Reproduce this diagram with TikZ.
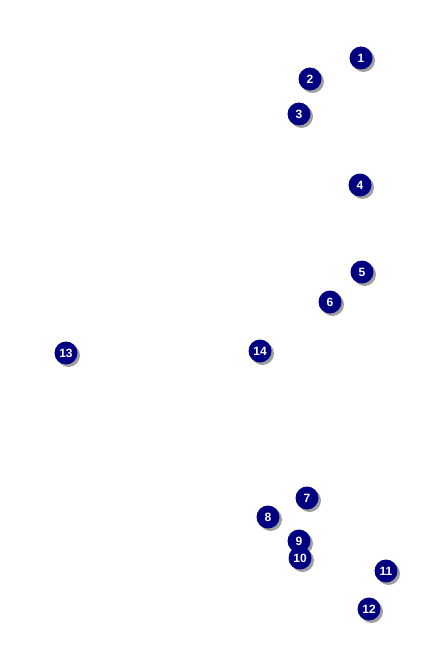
\documentclass[tikz,border=0pt]{standalone}
\usepackage{fontspec}
\setmainfont{Liberation Sans}
\definecolor{navyb}{HTML}{000080}
\definecolor{shade}{HTML}{808080}
\begin{document}
\begin{tikzpicture}[x=1pt,y=-1pt,
  badge/.style={circle,fill=navyb,minimum size=23pt,inner sep=0pt,text=white,font=\bfseries\fontsize{12}{12}\selectfont},
  badgeshadow/.style={circle,fill=shade,opacity=0.75,minimum size=23pt,inner sep=0pt}]
\useasboundingbox (0,0) rectangle (425,650);
\fill[white] (0,0) rectangle (425,650);
\foreach \n/\x/\y in {1/361/58,2/310/79,3/299/114,4/360/185,5/362/272,6/330/302,7/307/498,8/268/517,9/299/541,10/300/558,11/386/571,12/369/609,13/66/353,14/260/351}{
  \node[badgeshadow] (s\n) at (\x+2.5,\y+2.5) {};
  \node[badge] (b\n) at (\x,\y) {\n};
}
\end{tikzpicture}
\end{document}
